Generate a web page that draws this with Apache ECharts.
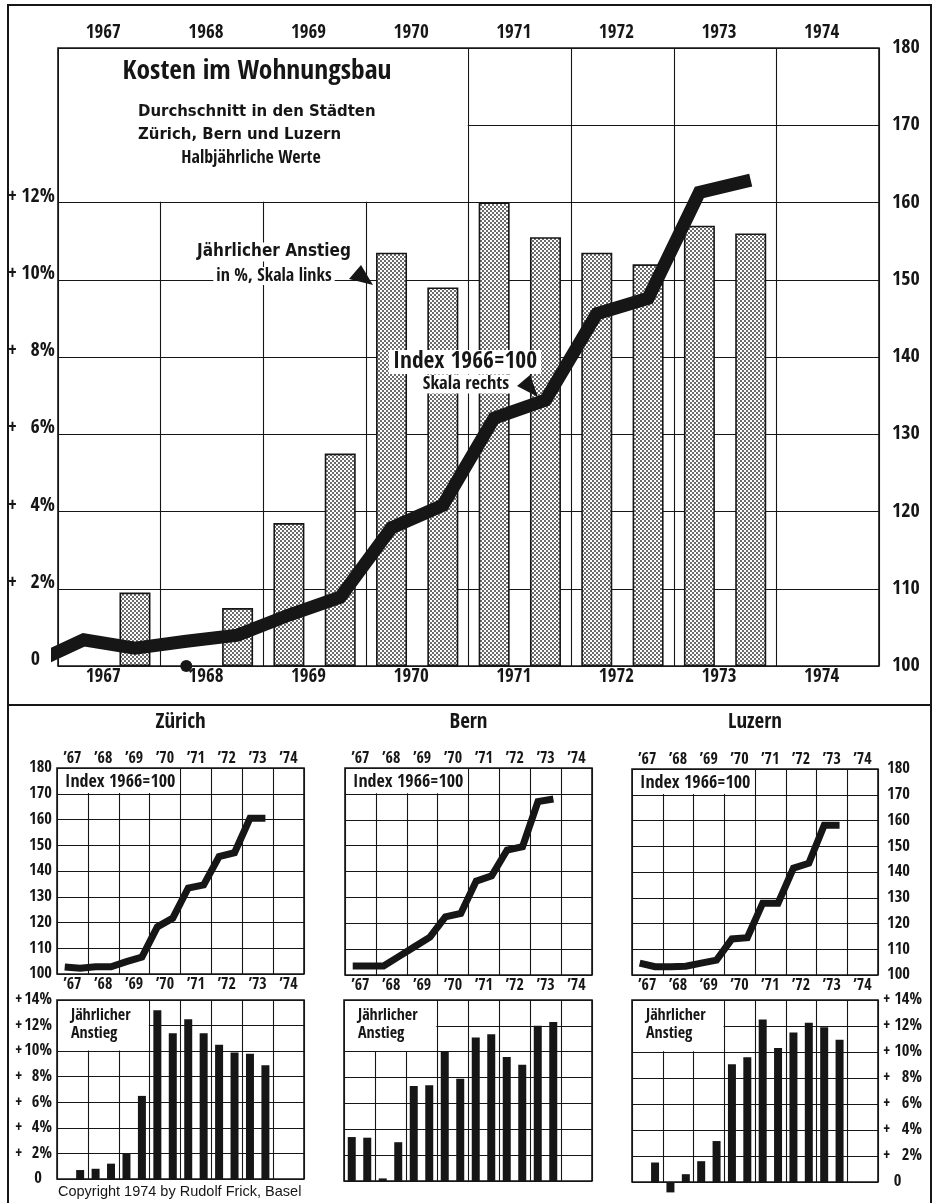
<!DOCTYPE html>
<html>
<head>
<meta charset="utf-8">
<script src="https://cdn.jsdelivr.net/npm/echarts@6/dist/echarts.min.js"></script>
<style>
html,body{margin:0;padding:0;background:#fff;}
#c{width:939px;height:1203px;}
</style>
</head>
<body>
<div id="c"></div>
<script>
// ---------------- DATA ----------------
const years = [1967, 1968, 1969, 1970, 1971, 1972, 1973, 1974];
const yearLabels = years.map(String);
const shortYearLabels = years.map(y => '\u2019' + String(y).slice(2));

// half-year periods (year-half)
const mainPeriods = ['1966-2','1967-1','1967-2','1968-1','1968-2','1969-1','1969-2','1970-1','1970-2','1971-1','1971-2','1972-1','1972-2','1973-1','1973-2'];
// Index 1966=100, average of the three cities (right scale)
const mainIndex = [100.3, 103.4, 102.3, 103.2, 104.0, 106.6, 108.9, 117.9, 120.8, 132.1, 134.4, 145.6, 147.6, 161.3, 162.9];
// yearly rise in % (left scale); null = no value, 0 = shown as dot
const mainRise  = [null, null, 1.9, 0, 1.5, 3.7, 5.5, 10.7, 9.8, 12.0, 11.1, 10.7, 10.4, 11.4, 11.2];

const cityPeriods = ['1967-1','1967-2','1968-1','1968-2','1969-1','1969-2','1970-1','1970-2','1971-1','1971-2','1972-1','1972-2','1973-1','1973-2'];
const zurichIndex = [102.7, 102.2, 102.8, 102.8, 104.8, 106.6, 118.3, 121.7, 133.4, 134.6, 145.6, 147.1, 160.5, 160.5];
const zurichRise  = [null, 0.7, 0.8, 1.2, 2.0, 6.5, 13.2, 11.4, 12.5, 11.4, 10.5, 9.9, 9.8, 8.9];
const bernIndex   = [103.5, 103.5, 103.5, 107.2, 110.9, 114.6, 122.5, 123.8, 136.3, 138.3, 148.3, 149.6, 167.0, 168.0];
const bernRise    = [3.4, 3.35, 0.2, 3.0, 7.35, 7.4, 10.0, 7.9, 11.1, 11.35, 9.6, 9.0, 12.0, 12.3];
const luzernIndex = [104.6, 103.2, 103.2, 103.4, 104.6, 105.8, 114.0, 114.5, 127.9, 127.9, 141.5, 143.4, 158.2, 158.2];
const luzernRise  = [null, 1.5, -0.8, 0.6, 1.6, 3.15, 9.05, 9.6, 12.5, 10.3, 11.5, 12.25, 11.9, 10.95];

const mainPctMax = 16, mainPctLabelMax = 12, pctStep = 2;
const indexMin = 100, indexMax = 180, indexStep = 10;
const smallPctMax = 14;

// ---------------- HELPERS ----------------
const INK = '#161616';
const FONT = '"Open Sans Condensed","Roboto Condensed","DejaVu Sans Condensed",sans-serif';
const FONT_MED = '"DejaVu Sans Condensed","DejaVu Sans",sans-serif';
const FONT_REG = '"Liberation Sans","Arimo",Arial,sans-serif';

function periodX(p) { const [y, h] = p.split('-'); return +y + (h === '1' ? 0.25 : 0.75); }
function pairs(periods, vals, keep) {
  const out = [];
  periods.forEach((p, i) => { const v = vals[i]; if (v !== null && (!keep || keep(v))) out.push([periodX(p), v]); });
  return out;
}

function dotPattern() {
  const c = document.createElement('canvas');
  c.width = 4; c.height = 4;
  const g = c.getContext('2d');
  g.fillStyle = '#ffffff'; g.fillRect(0, 0, 4, 4);
  g.fillStyle = '#2e2e2e';
  g.beginPath(); g.arc(1, 1, 0.95, 0, Math.PI * 2); g.fill();
  g.beginPath(); g.arc(3, 3, 0.95, 0, Math.PI * 2); g.fill();
  return c;
}

const gridLine = { color: INK, width: 1.1 };

const grids = [
  { left: 58,  top: 48,   width: 821, height: 618 },  // main
  { left: 57,  top: 768,  width: 247, height: 206 },  // Zürich index
  { left: 57,  top: 1000, width: 247, height: 179 },  // Zürich rise
  { left: 345, top: 768,  width: 247, height: 207 },  // Bern index
  { left: 344, top: 1000, width: 248, height: 181 },  // Bern rise
  { left: 632, top: 769,  width: 246, height: 206 },  // Luzern index
  { left: 632, top: 1000, width: 246, height: 182 }   // Luzern rise
].map(g => Object.assign({ show: true, borderColor: INK, borderWidth: 1.6, backgroundColor: 'rgba(0,0,0,0)', containLabel: false }, g));

const xAxes = [];
const xIdx = {};
function valueX(gi) {
  xIdx['v' + gi] = xAxes.length;
  xAxes.push({ type: 'value', gridIndex: gi, min: years[0], max: years[years.length - 1] + 1, interval: 1,
    axisLine: { show: false }, axisTick: { show: false }, axisLabel: { show: false },
    splitLine: { show: true, lineStyle: gridLine } });
}
function catX(gi, pos, data, fs, margin, pad) {
  xAxes.push({ type: 'category', gridIndex: gi, position: pos, data: data, boundaryGap: true,
    axisLine: { show: false }, axisTick: { show: false }, splitLine: { show: false },
    axisLabel: { show: true, interval: 0, margin: margin, padding: pad || 0, color: INK, fontFamily: FONT, fontWeight: 'bold', fontSize: fs } });
}
valueX(0); catX(0, 'top', yearLabels, 19, 5, [0, 12, 0, 0]); catX(0, 'bottom', yearLabels, 19, 2, [0, 12, 0, 0]);
valueX(1); catX(1, 'top', shortYearLabels, 16, 1); catX(1, 'bottom', shortYearLabels, 16, 3);
valueX(2);
valueX(3); catX(3, 'top', shortYearLabels, 16, 1); catX(3, 'bottom', shortYearLabels, 16, 3);
valueX(4);
valueX(5); catX(5, 'top', shortYearLabels, 16, 1); catX(5, 'bottom', shortYearLabels, 16, 3);
valueX(6);

const lbl = (fs) => ({ fontFamily: FONT, fontWeight: 'bold', fontSize: fs, color: INK });
function pctFormatter(max) {
  return v => v > max ? '' : (v === 0 ? '{z|0}{s| }' : '{p|+}{n|' + v + '%}');
}
function pctRich(fs, pw, nw, zw) {
  return { p: Object.assign({ width: pw, align: 'left' }, lbl(fs)), n: Object.assign({ width: nw, align: 'right' }, lbl(fs)),
           z: Object.assign({ width: zw, align: 'right' }, lbl(fs)), s: Object.assign({ width: pw + nw - zw }, lbl(fs)) };
}
const yAxes = [
  // 0 main left %
  { type: 'value', gridIndex: 0, position: 'left', min: 0, max: mainPctMax, interval: pctStep,
    axisLine: { show: false }, axisTick: { show: false }, splitLine: { show: true, lineStyle: gridLine },
    axisLabel: { margin: 3, formatter: pctFormatter(mainPctLabelMax), verticalAlign: 'middle', padding: [0, 0, 12, 0],
      rich: pctRich(20, 11, 36, 32) } },
  // 1 main right index
  { type: 'value', gridIndex: 0, position: 'right', min: indexMin, max: indexMax, interval: indexStep,
    axisLine: { show: false }, axisTick: { show: false }, splitLine: { show: false },
    axisLabel: Object.assign({ margin: 13 }, lbl(20)) },
  // 2 Zürich index
  { type: 'value', gridIndex: 1, position: 'left', min: indexMin, max: indexMax, interval: indexStep,
    axisLine: { show: false }, axisTick: { show: false }, splitLine: { show: true, lineStyle: gridLine },
    axisLabel: Object.assign({ margin: 5 }, lbl(16.5)) },
  // 3 Zürich %
  { type: 'value', gridIndex: 2, position: 'left', min: 0, max: smallPctMax, interval: pctStep,
    axisLine: { show: false }, axisTick: { show: false }, splitLine: { show: true, lineStyle: gridLine },
    axisLabel: { margin: 5, formatter: pctFormatter(smallPctMax), rich: pctRich(16.5, 10, 27, 27) } },
  // 4 Bern index
  { type: 'value', gridIndex: 3, min: indexMin, max: indexMax, interval: indexStep,
    axisLine: { show: false }, axisTick: { show: false }, splitLine: { show: true, lineStyle: gridLine }, axisLabel: { show: false } },
  // 5 Bern %
  { type: 'value', gridIndex: 4, min: 0, max: smallPctMax, interval: pctStep,
    axisLine: { show: false }, axisTick: { show: false }, splitLine: { show: true, lineStyle: gridLine }, axisLabel: { show: false } },
  // 6 Luzern index
  { type: 'value', gridIndex: 5, position: 'right', min: indexMin, max: indexMax, interval: indexStep,
    axisLine: { show: false }, axisTick: { show: false }, splitLine: { show: true, lineStyle: gridLine },
    axisLabel: Object.assign({ margin: 9 }, lbl(16.5)) },
  // 7 Luzern %
  { type: 'value', gridIndex: 6, position: 'right', min: 0, max: smallPctMax, interval: pctStep,
    axisLine: { show: false }, axisTick: { show: false }, splitLine: { show: true, lineStyle: gridLine },
    axisLabel: { margin: 5, formatter: pctFormatter(smallPctMax), rich: pctRich(16.5, 12, 27, 29) } }
];

const pattern = dotPattern();
const series = [
  { type: 'bar', xAxisIndex: xIdx.v0, yAxisIndex: 0, data: pairs(mainPeriods, mainRise, v => v > 0), barWidth: 31,
    itemStyle: { color: { image: pattern, repeat: 'repeat' }, borderColor: INK, borderWidth: 1.6 }, z: 2 },
  { type: 'scatter', xAxisIndex: xIdx.v0, yAxisIndex: 0, data: pairs(mainPeriods, mainRise, v => v === 0),
    symbolSize: 12, itemStyle: { color: INK, opacity: 1 }, z: 4 },
  { type: 'line', xAxisIndex: xIdx.v0, yAxisIndex: 1, data: pairs(mainPeriods, mainIndex), symbol: 'none', clip: true,
    lineStyle: { width: 13, color: INK, join: 'miter', cap: 'butt' }, z: 3 }
];
function citySeries(ix, iy, idxVals, bx, by, riseVals) {
  series.push({ type: 'line', xAxisIndex: ix, yAxisIndex: iy, data: pairs(cityPeriods, idxVals), symbol: 'none',
    lineStyle: { width: 7, color: INK, join: 'miter', cap: 'butt' }, z: 3 });
  series.push({ type: 'bar', xAxisIndex: bx, yAxisIndex: by, data: pairs(cityPeriods, riseVals), barWidth: 8, clip: false,
    itemStyle: { color: INK }, z: 3 });
}
citySeries(xIdx.v1, 2, zurichIndex, xIdx.v2, 3, zurichRise);
citySeries(xIdx.v3, 4, bernIndex, xIdx.v4, 5, bernRise);
citySeries(xIdx.v5, 6, luzernIndex, xIdx.v6, 7, luzernRise);

// ---------------- GRAPHICS (text, boxes, frame) ----------------
const G = [];
function txt(text, x, y, size, opts) {
  G.push({ type: 'text', z: 61, style: Object.assign({ text: text, x: x, y: y, fill: INK, fontFamily: FONT, fontWeight: 'bold',
    fontSize: size, align: 'center', verticalAlign: 'middle' }, opts || {}) });
}
function whiteBox(g, cols, rows, nCols, nRows) {
  const cw = g.width / nCols, rh = g.height / nRows;
  G.push({ type: 'rect', z: 55, shape: { x: g.left + 1, y: g.top + 1, width: cw * cols - 1.7, height: rh * rows - 1.7 },
    style: { fill: '#fff', stroke: null } });
  return { x: g.left, y: g.top, w: cw * cols, h: rh * rows };
}
// frame
G.push({ type: 'rect', z: 62, shape: { x: 8, y: 5, width: 923, height: 1215 }, style: { fill: 'none', stroke: INK, lineWidth: 2 } });
G.push({ type: 'line', z: 62, shape: { x1: 8, y1: 705, x2: 931, y2: 705 }, style: { stroke: INK, lineWidth: 2 } });

// main title box (4 year columns, 2 rows of 2 %)
whiteBox(grids[0], 4, 2, 8, 8);
txt('Kosten im Wohnungsbau', 257, 72, 27.5);
txt('Durchschnitt in den Städten', 138, 112, 16.6, { align: 'left', fontFamily: FONT_MED });
txt('Zürich, Bern und Luzern', 138, 135, 16.6, { align: 'left', fontFamily: FONT_MED });
txt('Halbjährliche Werte', 251, 158, 18);

// annotations
txt('Jährlicher Anstieg', 274, 252, 17, { fontFamily: FONT_MED, backgroundColor: '#fff', padding: [1, 3] });
txt('in %, Skala links', 274, 276, 18, { backgroundColor: '#fff', padding: [0, 3] });
G.push({ type: 'polygon', z: 61, shape: { points: [[349, 279], [361, 265], [373, 285]] }, style: { fill: INK } });
txt('Index 1966=100', 465, 362, 23.5, { backgroundColor: '#fff', padding: [0, 4] });
txt('Skala rechts', 466, 384, 18.5, { backgroundColor: '#fff', padding: [0, 3] });
G.push({ type: 'polygon', z: 61, shape: { points: [[517, 386], [530, 375], [538, 397]] }, style: { fill: INK } });

// small charts
const cityNames = ['Zürich', 'Bern', 'Luzern'];
[[1, 2], [3, 4], [5, 6]].forEach((pair, k) => {
  const gi = grids[pair[0]], gb = grids[pair[1]];
  txt(cityNames[k], gi.left + gi.width / 2, 723, 21);
  const b1 = whiteBox(gi, 4, 1, 8, 8);
  txt('Index 1966=100', b1.x + 8, b1.y + b1.h / 2 + 1, 18, { align: 'left' });
  const b2 = whiteBox(gb, 3, 2, 8, 7);
  txt('Jährlicher\nAnstieg', b2.x + 14, b2.y + b2.h / 2 - 1, 16, { align: 'left', lineHeight: 18 });
});
txt('Copyright 1974 by Rudolf Frick, Basel', 58, 1192, 14.5, { align: 'left', fontFamily: FONT_REG, fontWeight: 'normal' });

const chart = echarts.init(document.getElementById('c'), null, { renderer: 'canvas' });
chart.setOption({
  animation: false,
  backgroundColor: '#fff',
  grid: grids,
  xAxis: xAxes,
  yAxis: yAxes,
  series: series,
  graphic: { elements: G }
});
</script>
</body>
</html>
